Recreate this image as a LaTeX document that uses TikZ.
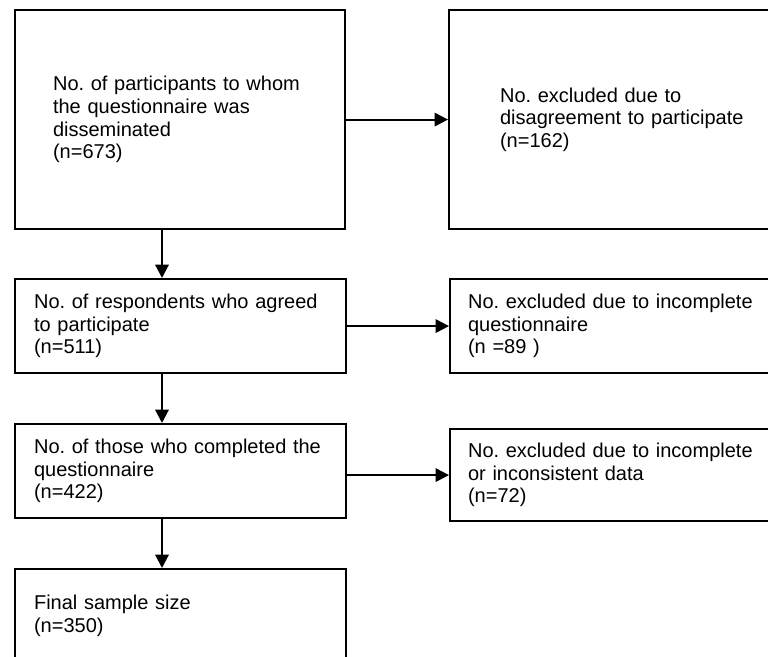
\documentclass[tikz,border=0pt]{standalone}
\usepackage{fontspec}
\setmainfont{Liberation Sans}
\usetikzlibrary{arrows.meta}
\frenchspacing

\begin{document}
\begin{tikzpicture}[x=0.75pt, y=-0.75pt,
        box/.style={draw, line width=1.6pt, anchor=north west, align=left,
            inner ysep=2pt, font=\fontsize{15}{17}\selectfont},
        leftbox/.style={box, text width=219.75pt, inner xsep=14.25pt, minimum height=70.5pt},
        rightbox/.style={box, text width=225pt, inner xsep=13.5pt, minimum height=70.5pt},
        flow/.style={line width=1.6pt, -{Triangle[length=10pt, width=10pt]}}]

        \pgfmathsetmacro{\W}{768}
        \pgfmathsetmacro{\H}{657}

        % 1. frame (the right and bottom boxes run past the edge)
        \useasboundingbox (0,0) rectangle (\W,\H);
        \clip (0,0) rectangle (\W,\H);

        % 2. main column
        \node[box, text width=190.5pt, inner xsep=28.5pt, minimum height=164.25pt]
            (dissem) at (14,9)
            {No. of participants to whom\\the questionnaire was\\disseminated\\(n=673)};
        \node[leftbox] (agreed) at (14,278)
            {No. of respondents who agreed\\to participate\\(n=511)};
        \node[leftbox] (completed) at (14,423)
            {No. of those who completed the\\questionnaire\\(n=422)};
        \node[leftbox] (final) at (14,568)
            {Final sample size\\(n=350)};

        % 3. excluded boxes
        \node[box, text width=195pt, inner xsep=38.25pt, minimum height=164.25pt]
            (disagree) at (448,9)
            {No. excluded due to\\disagreement to participate\\(n=162)};
        \node[rightbox] (incomplete) at (449,278)
            {No. excluded due to incomplete\\questionnaire\\(n =89 )};
        \node[rightbox, minimum height=69pt] (inconsistent) at (449,428)
            {No. excluded due to incomplete\\or inconsistent data\\(n=72)};

        % 4. arrows
        \coordinate (spine) at (162,0);
        \draw[flow] (dissem.south -| spine) -- (agreed.north -| spine);
        \draw[flow] (agreed.south -| spine) -- (completed.north -| spine);
        \draw[flow] (completed.south -| spine) -- (final.north -| spine);

        \draw[flow] (dissem.east) -- (disagree.west);
        \draw[flow] (agreed.east) -- (agreed.east -| incomplete.west);
        \draw[flow] (inconsistent.west -| completed.east) -- (inconsistent.west);
    \end{tikzpicture}
\end{document}
